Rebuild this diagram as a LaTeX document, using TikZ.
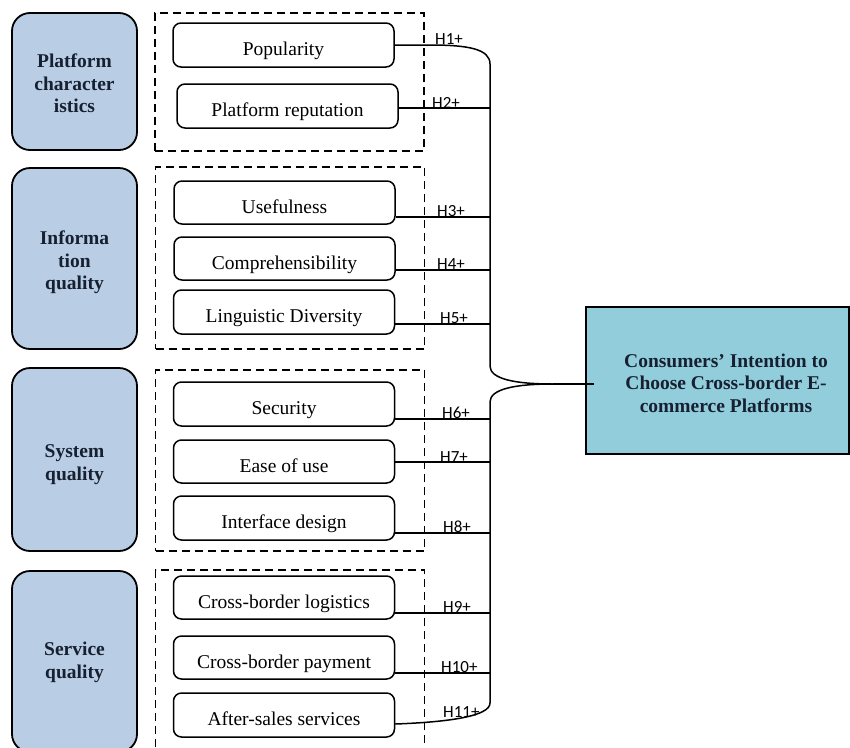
\documentclass[tikz,border=0pt]{standalone}
\usepackage{fontspec}
\setmainfont{Liberation Serif}
\newfontfamily\labfont{Carlito}
\usetikzlibrary{calc}
\definecolor{catfill}{RGB}{185,205,228}
\definecolor{tgtfill}{RGB}{146,205,220}
\definecolor{darktext}{RGB}{22,32,48}
\newcommand\dropby[2]{\raisebox{-#1}[\height][\depth]{\begin{tabular}{@{}c@{}}#2\end{tabular}}}
\begin{document}
\begin{tikzpicture}[x=1pt,y=-1pt,
  cat/.style={draw, line width=1.8pt, rounded corners=18pt, fill=catfill, text=darktext,
    font=\bfseries\fontsize{19.5}{22.5}\selectfont, align=center, minimum width=125pt, inner sep=0pt},
  item/.style={draw, line width=1.5pt, rounded corners=8pt, fill=white,
    font=\fontsize{19.5}{22}\selectfont, minimum width=221pt, minimum height=44pt, inner sep=0pt,
    text height=21pt, text depth=0pt},
  grp/.style={draw, line width=1.4pt, dash pattern=on 8pt off 5pt, minimum width=269pt, inner sep=0pt},
  hlab/.style={font=\labfont\fontsize{17}{17}\selectfont, anchor=base west, inner sep=0pt},
  conn/.style={line width=1.5pt},
  tgt/.style={draw, line width=2.5pt, fill=tgtfill, minimum width=263pt, minimum height=147pt, inner sep=0pt},
  tgttext/.style={text=darktext, font=\bfseries\fontsize{19.5}{22.5}\selectfont, align=center, inner sep=0pt}]
\useasboundingbox (0,0) rectangle (850,747);
\clip (0,0) rectangle (850,747);

% category boxes
\node[cat, minimum height=137pt] (c1) at (74.5,81.5) {\dropby{4pt}{Platform\\character\\istics}};
\node[cat, minimum height=181pt] (c2) at (74.5,258.5) {\dropby{4pt}{Informa\\tion\\quality}};
\node[cat, minimum height=183pt] (c3) at (74.5,459.5) {\dropby{5pt}{System\\quality}};
\node[cat, minimum height=181pt] (c4) at (74.5,661.5) {\dropby{1pt}{Service\\quality}};

% dashed groups
\node[grp, minimum height=138pt] (g1) at (289.5,82) {};
\node[grp, minimum height=182pt] (g2) at (290,258) {};
\node[grp, minimum height=181pt] (g3) at (290,460.5) {};
\node[grp, minimum height=190pt] (g4) at (290,665) {};

% items
\node[item] (p1) at (283.5,45) {Popularity};
\node[item] (p2) at (287.5,106) {Platform reputation};
\node[item, minimum height=43pt] (p3) at (284.5,202.5) {Usefulness};
\node[item, minimum height=43pt] (p4) at (284.5,258.5) {Comprehensibility};
\node[item] (p5) at (284,312) {Linguistic Diversity};
\node[item] (p6) at (284,404) {Security};
\node[item, minimum height=43pt] (p7) at (284,461.5) {Ease of use};
\node[item] (p8) at (284,518) {Interface design};
\node[item, minimum height=43pt] (p9) at (284,597.5) {Cross-border logistics};
\node[item, minimum height=43pt] (p10) at (284,657.5) {Cross-border payment};
\node[item] (p11) at (284,715) {After-sales services};

% target
\node[tgt] (t) at (717.5,380.5) {};
\node[tgttext] (tt) at (726,383) {Consumers’ Intention to\\Choose Cross-border E-\\commerce Platforms};

% trunk coordinates
\coordinate (h2) at (490,108);
\coordinate (h3) at (490,217);
\coordinate (h4) at (490,270);
\coordinate (h5) at (490,324);
\coordinate (h6) at (490,419);
\coordinate (h7) at (490,462);
\coordinate (h8) at (490,533);
\coordinate (h9) at (490,613);
\coordinate (h10) at (490,673);
\coordinate (y11) at (0,724);
\coordinate (j) at (553,384);

% connectors
\draw[conn] (p1.east) -- (430,45) .. controls (468,45) and (490,49) .. (490,64)
  -- (490,366) .. controls (490,379) and (515,384) .. (j);
\draw[conn] (j) .. controls (515,384) and (490,389) .. (490,402)
  -- (490,703) .. controls (490,716) and (450,722) .. (p11.east |- y11);
\draw[conn] (j) -- ($(j -| t.west)+(9,0)$);
\draw[conn] (h2 -| p2.east) -- (h2);
\draw[conn] (h3 -| p3.east) -- (h3);
\draw[conn] (h4 -| p4.east) -- (h4);
\draw[conn] (h5 -| p5.east) -- (h5);
\draw[conn] (h6 -| p6.east) -- (h6);
\draw[conn] (h7 -| p7.east) -- (h7);
\draw[conn] (h8 -| p8.east) -- (h8);
\draw[conn] (h9 -| p9.east) -- (h9);
\draw[conn] (h10 -| p10.east) -- (h10);

% labels
\node[hlab] (l1) at (435,44) {H1+};
\node[hlab] (l2) at (432,108) {H2+};
\node[hlab] (l3) at (437,216) {H3+};
\node[hlab] (l4) at (437,269) {H4+};
\node[hlab] (l5) at (440,323) {H5+};
\node[hlab] (l6) at (442,418) {H6+};
\node[hlab] (l7) at (440,462) {H7+};
\node[hlab] (l8) at (443,532) {H8+};
\node[hlab] (l9) at (443,612) {H9+};
\node[hlab] (l10) at (441,672) {H10+};
\node[hlab] (l11) at (443,717) {H11+};
\end{tikzpicture}
\end{document}
